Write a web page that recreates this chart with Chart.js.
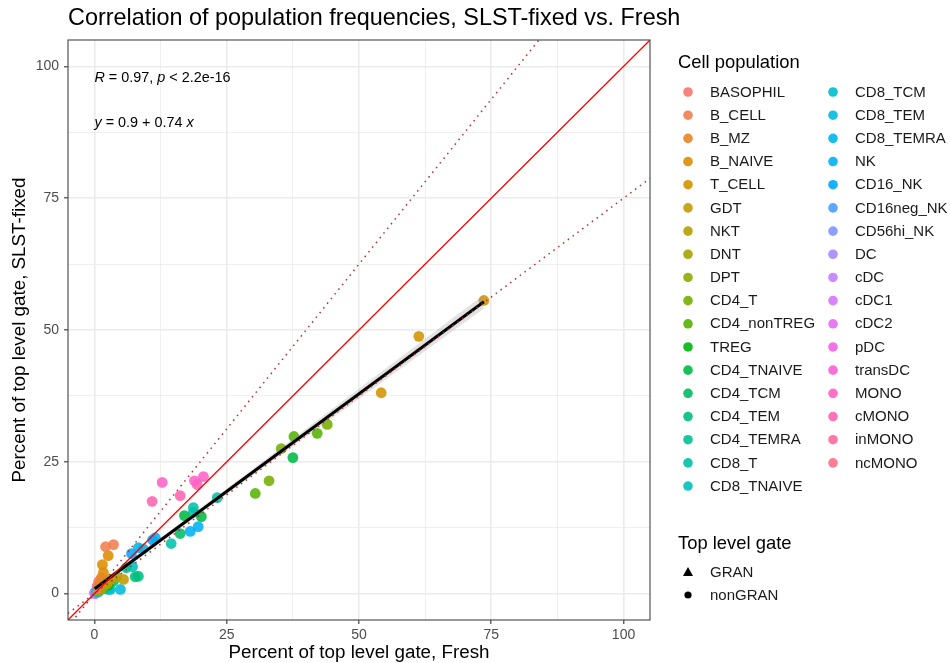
<!DOCTYPE html>
<html>
<head>
<meta charset="utf-8">
<script src="https://cdn.jsdelivr.net/npm/chart.js@4.4.0/dist/chart.umd.min.js"></script>
<style>
  html, body { margin: 0; padding: 0; background: #fff; }
  #wrap { width: 950px; height: 663px; }
</style>
</head>
<body>
<div id="wrap"><canvas id="chart" width="950" height="663"></canvas></div>
<script>
const populations = ["BASOPHIL", "B_CELL", "B_MZ", "B_NAIVE", "T_CELL", "GDT", "NKT", "DNT", "DPT",
  "CD4_T", "CD4_nonTREG", "TREG", "CD4_TNAIVE", "CD4_TCM", "CD4_TEM", "CD4_TEMRA", "CD8_T",
  "CD8_TNAIVE", "CD8_TCM", "CD8_TEM", "CD8_TEMRA", "NK", "CD16_NK", "CD16neg_NK", "CD56hi_NK",
  "DC", "cDC", "cDC1", "cDC2", "pDC", "transDC", "MONO", "cMONO", "inMONO", "ncMONO"];
const gates = ["GRAN", "nonGRAN"];

// one entry per sample point
const pointPop = [
  "BASOPHIL", "BASOPHIL", "B_CELL", "B_CELL", "B_MZ", "B_MZ", "B_NAIVE", "B_NAIVE", "B_NAIVE",
  "T_CELL", "T_CELL", "T_CELL", "GDT", "GDT", "NKT", "NKT", "DNT", "DNT", "DPT", "DPT",
  "CD4_T", "CD4_T", "CD4_T", "CD4_nonTREG", "CD4_nonTREG", "CD4_nonTREG", "TREG", "TREG",
  "CD4_TNAIVE", "CD4_TNAIVE", "CD4_TNAIVE", "CD4_TCM", "CD4_TCM", "CD4_TEM", "CD4_TEM",
  "CD4_TEMRA", "CD4_TEMRA", "CD8_T", "CD8_T", "CD8_T", "CD8_TNAIVE", "CD8_TNAIVE",
  "CD8_TCM", "CD8_TCM", "CD8_TEM", "CD8_TEM", "CD8_TEMRA", "CD8_TEMRA", "NK", "NK", "NK",
  "CD16_NK", "CD16_NK", "CD16neg_NK", "CD16neg_NK", "CD56hi_NK", "CD56hi_NK", "DC", "DC",
  "cDC", "cDC", "cDC1", "cDC1", "cDC2", "cDC2", "pDC", "pDC", "transDC", "transDC",
  "MONO", "MONO", "MONO", "cMONO", "cMONO", "cMONO", "inMONO", "inMONO", "ncMONO", "ncMONO"];
const pointGate = pointPop.map(p => p === "BASOPHIL" ? "GRAN" : "nonGRAN");
const freshPct = [
  0.4, 1.0, 3.6, 2.1, 1.3, 0.9, 2.6, 1.5, 1.7,
  73.6, 61.3, 54.2, 3.0, 5.5, 4.2, 2.4, 1.8, 1.2, 0.7, 1.0,
  44.0, 35.3, 33.0, 42.1, 37.7, 30.4, 2.1, 2.6,
  17.0, 20.2, 37.5, 16.2, 3.6, 7.7, 8.3,
  6.0, 1.8, 23.2, 18.7, 14.5, 7.2, 18.7,
  3.0, 0.5, 4.9, 2.6, 8.3, 9.2, 11.5, 18.1, 19.6,
  11.0, 7.0, 0.4, 0.8, 0.5, 0.3, 0.6, 0.2,
  0.3, 0.1, 0.1, 0.05, 0.2, 0.3, 0.3, 0.2, 0.1, 0.05,
  12.8, 18.9, 20.6, 10.9, 16.2, 19.4, 1.2, 0.6, 0.8, 0.5];
const fixedPct = [
  0.6, 1.3, 9.3, 8.9, 3.0, 1.8, 7.2, 5.5, 4.0,
  55.6, 48.8, 38.1, 2.7, 2.7, 3.2, 1.9, 1.5, 0.9, 0.5, 0.7,
  32.1, 27.5, 21.4, 30.4, 29.8, 19.0, 2.1, 1.6,
  14.8, 14.6, 25.8, 11.4, 2.4, 3.2, 3.3,
  4.9, 0.9, 18.2, 16.3, 9.5, 5.1, 15.4,
  0.8, 0.3, 0.8, 0.8, 8.7, 8.5, 10.6, 11.8, 12.7,
  10.2, 7.6, 0.4, 0.3, 0.6, 0.2, 0.4, 0.3,
  0.4, 0.2, 0.1, 0.1, 0.3, 0.2, 0.3, 0.1, 0.2, 0.05,
  21.1, 21.4, 22.2, 17.5, 18.6, 20.7, 1.6, 1.1, 2.3, 1.4];

// fit y = 0.9 + 0.74 x, confidence band half-width
const fitIntercept = 0.9;
const fitSlope = 0.74;
const bandX = [0, 15, 30, 50, 73.6];
const bandHalf = [0.5, 0.45, 0.6, 0.95, 1.3];
const refSlopes = [1.25, 0.75];

const tickValues = [0, 12.5, 25, 37.5, 50, 62.5, 75, 87.5, 100];

function hcl(h, c, l) {
  const hr = h * Math.PI / 180;
  const u = c * Math.cos(hr), v = c * Math.sin(hr);
  const Xn = 95.047, Yn = 100, Zn = 108.883;
  const d = Xn + 15 * Yn + 3 * Zn;
  const un = 4 * Xn / d, vn = 9 * Yn / d;
  const Y = Yn * Math.pow((l + 16) / 116, 3);
  const up = u / (13 * l) + un, vp = v / (13 * l) + vn;
  const X = Y * 9 * up / (4 * vp);
  const Z = Y * (12 - 3 * up - 20 * vp) / (4 * vp);
  const x = X / 100, y = Y / 100, z = Z / 100;
  const r = 3.2404542 * x - 1.5371385 * y - 0.4985314 * z;
  const g = -0.9692660 * x + 1.8760108 * y + 0.0415560 * z;
  const b = 0.0556434 * x - 0.2040259 * y + 1.0572252 * z;
  const gam = t => t <= 0.0031308 ? 12.92 * t : 1.055 * Math.pow(t, 1 / 2.4) - 0.055;
  return [r, g, b].map(t => Math.round(255 * Math.min(1, Math.max(0, gam(t)))));
}
const popColors = populations.map((p, i) => hcl(15 + i * 360 / populations.length, 100, 65));
const rgba = (c, a) => `rgba(${c[0]},${c[1]},${c[2]},${a})`;

const pointSets = populations.map((p, i) => {
  const data = [];
  const styles = [];
  pointPop.forEach((q, k) => {
    if (q === p) {
      data.push({ x: freshPct[k], y: fixedPct[k] });
      styles.push(pointGate[k] === "GRAN" ? "triangle" : "circle");
    }
  });
  return {
    type: "scatter", label: p, data, order: 5,
    pointStyle: styles, pointRadius: 5.4, pointHoverRadius: 5.4,
    backgroundColor: rgba(popColors[i], 0.88), borderWidth: 0
  };
}).filter(d => d.data.length);

const xMin = Math.min(...freshPct), xMax = Math.max(...freshPct);
const fitLine = [xMin, xMax].map(x => ({ x, y: fitIntercept + fitSlope * x }));
const bandUpper = bandX.map((x, i) => ({ x, y: fitIntercept + fitSlope * x + bandHalf[i] }));
const bandLower = bandX.map((x, i) => ({ x, y: fitIntercept + fitSlope * x - bandHalf[i] }));

const lineBase = { type: "line", showLine: true, pointRadius: 0, pointHoverRadius: 0, clip: 0, fill: false };
const lineSets = [
  ...refSlopes.map(s => ({ ...lineBase, label: "ref" + s, order: 0,
    data: [{ x: -5, y: -5 * s }, { x: 105, y: 105 * s }],
    borderColor: "#b0302c", borderWidth: 1.5, borderDash: [1.5, 4.5] })),
  { ...lineBase, label: "identity", order: 1, data: [{ x: -5, y: -5 }, { x: 105, y: 105 }],
    borderColor: "#ff0000", borderWidth: 1.3 },
  { ...lineBase, label: "fit", order: 2, data: fitLine, borderColor: "#000", borderWidth: 3 },
  { ...lineBase, label: "bandU", order: 3, data: bandUpper, borderWidth: 0, tension: 0.3,
    fill: "+1", backgroundColor: "rgba(150,150,150,0.28)" },
  { ...lineBase, label: "bandL", order: 3, data: bandLower, borderWidth: 0, tension: 0.3 }
];

function isMajor(v) { return v % 25 === 0; }

function axisOpts(isX) {
  return {
    type: "linear", min: -5, max: 105,
    afterBuildTicks: s => { s.ticks = tickValues.map(v => ({ value: v })); },
    afterFit: s => { if (isX) s.height = 43; else s.width = 68; },
    ticks: {
      autoSkip: false, maxRotation: 0, padding: isX ? 3 : 5,
      color: "#4d4d4d", font: { family: "Liberation Sans", size: 14 },
      callback: v => isMajor(v) ? String(v) : ""
    },
    grid: {
      color: "#ebebeb", tickLength: 4,
      lineWidth: ctx => ctx.tick && isMajor(ctx.tick.value) ? 1.6 : 0.8,
      tickColor: ctx => ctx.tick && isMajor(ctx.tick.value) ? "#333" : "rgba(0,0,0,0)",
      tickWidth: 1.1
    },
    border: { display: false }
  };
}

function drawRich(ctx, x, y, parts, size) {
  let cx = x;
  parts.forEach(([t, it]) => {
    ctx.font = `${it ? "italic " : ""}${size}px "Liberation Sans"`;
    ctx.fillText(t, cx, y);
    cx += ctx.measureText(t).width;
  });
}

const decorations = {
  id: "decorations",
  afterDatasetsDraw(chart) {
    const { ctx, chartArea: a } = chart;
    ctx.save();
    ctx.strokeStyle = "#444";
    ctx.lineWidth = 1.1;
    ctx.strokeRect(a.left, a.top, a.right - a.left, a.bottom - a.top);
    ctx.restore();
  },
  afterDraw(chart) {
    const { ctx, chartArea: a, scales } = chart;
    ctx.save();
    ctx.fillStyle = "#000";
    ctx.textBaseline = "middle";
    ctx.textAlign = "left";
    ctx.font = '23.4px "Liberation Sans"';
    ctx.fillText("Correlation of population frequencies, SLST-fixed vs. Fresh", 68, 19);

    // stat annotations
    const ax = scales.x.getPixelForValue(0);
    drawRich(ctx, ax, scales.y.getPixelForValue(97.8),
      [["R", true], [" = 0.97, ", false], ["p", true], [" < 2.2e-16", false]], 14.4);
    drawRich(ctx, ax, scales.y.getPixelForValue(89.3),
      [["y", true], [" = 0.9 + 0.74 ", false], ["x", true]], 14.4);

    // axis titles
    ctx.font = '18.8px "Liberation Sans"';
    ctx.textAlign = "center";
    ctx.fillText("Percent of top level gate, Fresh", (a.left + a.right) / 2, 653);
    ctx.save();
    ctx.translate(20, (a.top + a.bottom) / 2);
    ctx.rotate(-Math.PI / 2);
    ctx.fillText("Percent of top level gate, SLST-fixed", 0, 0);
    ctx.restore();

    // colour legend
    ctx.textAlign = "left";
    ctx.font = '18.4px "Liberation Sans"';
    ctx.fillText("Cell population", 678, 63);
    const perCol = 18, rowH = 23.18;
    ctx.font = '15px "Liberation Sans"';
    populations.forEach((p, i) => {
      const col = Math.floor(i / perCol), row = i % perCol;
      const x = 688 + col * 145, y = 92 + row * rowH;
      ctx.fillStyle = rgba(popColors[i], 0.9);
      ctx.beginPath();
      ctx.arc(x, y, 4.8, 0, Math.PI * 2);
      ctx.fill();
      ctx.fillStyle = "#1a1a1a";
      ctx.fillText(p, x + 22, y + 0.5);
    });

    // shape legend
    ctx.fillStyle = "#000";
    ctx.font = '18.4px "Liberation Sans"';
    ctx.fillText("Top level gate", 678, 544);
    ctx.font = '15px "Liberation Sans"';
    gates.forEach((g, i) => {
      const x = 688, y = 572 + i * 23;
      ctx.fillStyle = "#000";
      ctx.beginPath();
      if (g === "GRAN") {
        ctx.moveTo(x, y - 5); ctx.lineTo(x + 5, y + 4); ctx.lineTo(x - 5, y + 4); ctx.closePath();
      } else {
        ctx.arc(x, y, 3.6, 0, Math.PI * 2);
      }
      ctx.fill();
      ctx.fillStyle = "#1a1a1a";
      ctx.fillText(g, x + 22, y + 0.5);
    });
    ctx.restore();
  }
};

new Chart(document.getElementById("chart").getContext("2d"), {
  type: "scatter",
  data: { datasets: [...lineSets, ...pointSets] },
  options: {
    responsive: false,
    animation: false,
    layout: { padding: { top: 40, right: 300, left: 0, bottom: 0 } },
    plugins: { legend: { display: false }, tooltip: { enabled: false }, title: { display: false } },
    scales: { x: axisOpts(true), y: axisOpts(false) }
  },
  plugins: [decorations]
});
</script>
</body>
</html>
